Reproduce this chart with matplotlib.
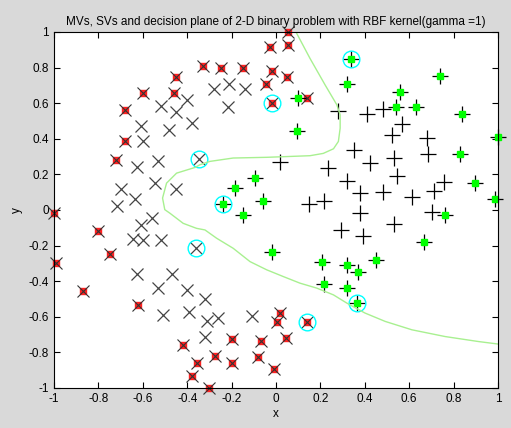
import matplotlib
matplotlib.use("Agg")
matplotlib.rcParams["font.family"] = ["Liberation Sans", "DejaVu Sans"]
import matplotlib.pyplot as plt

# class -1 (x markers)
neg_x = [-0.28, -0.21, -0.14, -0.215, -0.40, -0.52, -0.45, -0.38, -0.61, -0.48, -0.60, -0.53,
         -0.625, -0.70, -0.545, -0.45, -0.635, -0.715, -0.56, -0.61, -0.645, -0.60, -0.52,
         -0.625, -0.47, -0.53, -0.40, -0.32, -0.51, -0.39, -0.31, -0.26, -0.32, -0.11,
         -0.345, -0.36]
neg_y = [0.68, 0.71, 0.68, 0.58, 0.62, 0.585, 0.55, 0.49, 0.47, 0.45, 0.39, 0.275,
         0.24, 0.12, 0.15, 0.12, 0.06, 0.025, -0.045, -0.085, -0.165, -0.17, -0.17,
         -0.36, -0.36, -0.44, -0.45, -0.50, -0.59, -0.575, -0.625, -0.607, -0.715, -0.593,
         0.285, -0.215]
# class -1 margin vectors (red)
neg_mv_x = [-0.33, -0.25, -0.15, -0.45, -0.60, -0.46, -0.68, -0.68, -0.72, -1.0, -0.80,
            -0.75, -0.99, -0.87, -0.62, -0.42, -0.20, -0.275, -0.355, -0.20, -0.38, -0.30,
            0.055, -0.025, 0.055, -0.02, 0.05, -0.045, 0.138, -0.018, 0.018, 0.003, 0.138,
            0.045, -0.068, -0.083, -0.011]
neg_mv_y = [0.81, 0.80, 0.80, 0.75, 0.66, 0.66, 0.56, 0.39, 0.28, -0.015, -0.12,
            -0.245, -0.30, -0.455, -0.535, -0.76, -0.725, -0.82, -0.86, -0.86, -0.935, -1.0,
            1.0, 0.918, 0.927, 0.78, 0.75, 0.71, 0.632, 0.60, -0.576, -0.63, -0.63,
            -0.72, -0.735, -0.826, -0.892]

# class +1 (+ markers)
pos_x = [0.28, 0.41, 0.484, 0.567, 0.522, 0.68, 0.352, 0.532, 0.684, 0.02, 0.424, 0.236,
         0.544, 0.32, 0.758, 0.379, 0.484, 0.612, 0.713, 0.148, 0.216, 0.379, 0.702, 0.53,
         0.292, 0.394]
pos_y = [0.555, 0.537, 0.565, 0.481, 0.421, 0.406, 0.337, 0.293, 0.314, 0.27, 0.265, 0.238,
         0.191, 0.162, 0.159, 0.097, 0.103, 0.075, 0.107, 0.034, 0.05, -0.019, -0.013, -0.077,
         -0.11, -0.148]
# class +1 margin vectors (green)
pos_mv_x = [0.337, 0.737, 0.319, 0.559, 0.54, 0.632, 0.097, 0.839, 1.0, 0.093, 0.83, -0.093,
            0.896, -0.184, -0.239, -0.057, 0.985, 0.762, -0.147, 0.665, -0.019, 0.209, 0.319,
            0.451, 0.368, 0.218, 0.322, 0.364]
pos_mv_y = [0.849, 0.752, 0.71, 0.664, 0.576, 0.576, 0.627, 0.538, 0.411, 0.445, 0.312, 0.177,
            0.153, 0.121, 0.031, 0.048, 0.06, -0.028, -0.028, -0.181, -0.234, -0.293, -0.308,
            -0.28, -0.349, -0.415, -0.436, -0.52]

# support vectors (circled)
sv_x = [-0.345, -0.36, -0.018, 0.138, 0.337, -0.239, 0.364]
sv_y = [0.285, -0.215, 0.60, -0.63, 0.849, 0.031, -0.52]

# decision boundary
bnd_x = [0.090, 0.153, 0.221, 0.274, 0.289, 0.289, 0.281, 0.259, 0.213, 0.153, -0.042, -0.193,
         -0.298, -0.343, -0.365, -0.448, -0.493, -0.511, -0.501, -0.478, -0.418, -0.358,
         -0.320, -0.267, -0.193, -0.117, -0.042, 0.033, 0.108, 0.184, 0.259, 0.319, 0.401,
         0.492, 0.612, 0.762, 0.912, 1.0]
bnd_y = [1.0, 0.852, 0.703, 0.591, 0.535, 0.46, 0.385, 0.344, 0.318, 0.305, 0.296, 0.292,
         0.273, 0.254, 0.239, 0.207, 0.151, 0.067, 0.002, -0.018, -0.075, -0.103,
         -0.112, -0.159, -0.215, -0.290, -0.336, -0.374, -0.411, -0.439, -0.477, -0.523, -0.579,
         -0.626, -0.673, -0.711, -0.739, -0.753]

fig = plt.figure(figsize=(5.11, 4.28), dpi=100, facecolor="#d9d9d9")
ax = fig.add_axes([54 / 511, 40 / 428, 444 / 511, 356 / 428])

# x markers
ax.plot(neg_x, neg_y, "x", color="#444444", ms=9, mew=0.9, ls="none", clip_on=False)
ax.plot(neg_mv_x, neg_mv_y, "s", color="#ff2020", mec="#ff2020", ms=4.5, ls="none", clip_on=False)
ax.plot(neg_mv_x, neg_mv_y, "x", color="#333333", ms=8, mew=0.8, ls="none", clip_on=False)

# + markers
ax.plot(pos_x, pos_y, "+", color="black", ms=11, mew=0.9, ls="none", clip_on=False)
ax.plot(pos_mv_x, pos_mv_y, "+", color="black", ms=11, mew=0.9, ls="none", clip_on=False)
ax.plot(pos_mv_x, pos_mv_y, "s", color="#00ff00", mec="#00ff00", ms=4.5, ls="none", clip_on=False)

ax.plot(sv_x, sv_y, "o", mfc="none", mec="#00ffff", ms=12, mew=1.0, ls="none")

ax.plot(bnd_x, bnd_y, color="#a8f090", lw=1.0)

ax.set_xlim(-1, 1)
ax.set_ylim(-1, 1)
ticks = [-1, -0.8, -0.6, -0.4, -0.2, 0, 0.2, 0.4, 0.6, 0.8, 1]
labels = ["-1", "-0.8", "-0.6", "-0.4", "-0.2", "0", "0.2", "0.4", "0.6", "0.8", "1"]
ax.set_xticks(ticks)
ax.set_xticklabels(labels)
ax.set_yticks(ticks)
ax.set_yticklabels(labels)
ax.tick_params(direction="in", top=True, right=True, length=4, labelsize=8.5, width=0.8)
for s in ax.spines.values():
    s.set_linewidth(0.8)

ax.set_xlabel("x", fontsize=8.5, labelpad=2)
ax.set_ylabel("y", fontsize=8.5, labelpad=4)
ax.set_title("MVs, SVs and decision plane of 2-D binary problem with RBF kernel(gamma =1)",
             fontsize=8.5, pad=5)

fig.savefig("out.png", dpi=100, facecolor=fig.get_facecolor())
